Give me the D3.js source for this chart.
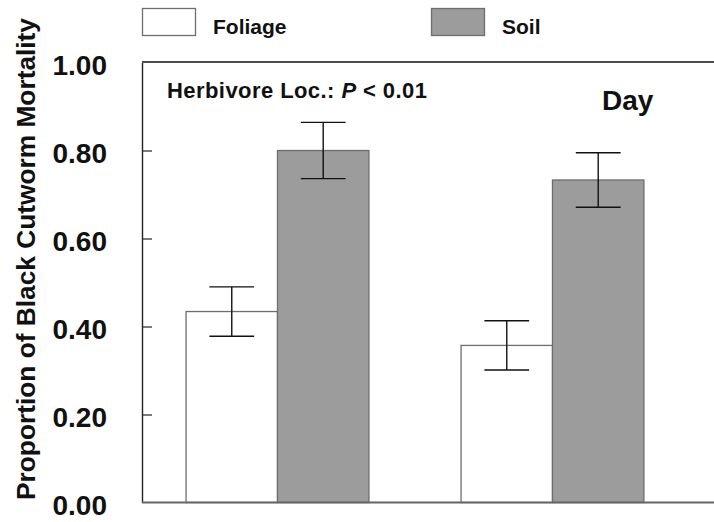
<!DOCTYPE html>
<html>
<head>
<meta charset="utf-8">
<script src="https://cdn.jsdelivr.net/npm/d3@7"></script>
<style>
  html, body { margin: 0; padding: 0; background: #fff; }
  svg { display: block; font-family: "Liberation Sans", Arial, sans-serif; }
</style>
</head>
<body>
<svg id="chart" width="714" height="522"></svg>
<script>
// Black cutworm mortality by herbivore location (day)
const groups = ["Plot A", "Plot B"];
const seriesNames = ["Foliage", "Soil"];
const foliageMean = [0.434, 0.357];
const foliageErr = [0.056, 0.056];
const soilMean = [0.800, 0.733];
const soilErr = [0.064, 0.062];
const yTicks = [0, 0.2, 0.4, 0.6, 0.8, 1.0];

const fills = { Foliage: "#ffffff", Soil: "#9c9c9c" };

const rows = groups.flatMap((g, i) => [
  { group: g, series: "Foliage", value: foliageMean[i], err: foliageErr[i] },
  { group: g, series: "Soil", value: soilMean[i], err: soilErr[i] }
]);

const svg = d3.select("#chart");
const plotLeft = 142, plotRight = 714, plotTop = 62.5, plotBottom = 502.5;

const y = d3.scaleLinear().domain([0, 1]).range([plotBottom, plotTop]);
const x0 = d3.scaleBand().domain(groups).range([plotLeft, plotRight])
  .paddingInner(0.335).paddingOuter(0.2075).align(0.386);
const x1 = d3.scaleBand().domain(seriesNames).range([0, x0.bandwidth()]);

// bars
const g = svg.append("g");
g.selectAll("rect.bar").data(rows).join("rect")
  .attr("class", "bar")
  .attr("x", d => x0(d.group) + x1(d.series))
  .attr("y", d => y(d.value))
  .attr("width", x1.bandwidth())
  .attr("height", d => y(0) - y(d.value))
  .attr("fill", d => fills[d.series])
  .attr("stroke", "#6e6e6e")
  .attr("stroke-width", 1.3);

// error bars
const capW = x1.bandwidth() * 0.49;
const eb = g.selectAll("g.err").data(rows).join("g").attr("class", "err")
  .attr("stroke", "#111").attr("stroke-width", 1.4);
eb.append("line")
  .attr("x1", d => x0(d.group) + x1(d.series) + x1.bandwidth() / 2)
  .attr("x2", d => x0(d.group) + x1(d.series) + x1.bandwidth() / 2)
  .attr("y1", d => y(d.value + d.err))
  .attr("y2", d => y(d.value - d.err));
eb.selectAll("line.cap").data(d => [
    { c: x0(d.group) + x1(d.series) + x1.bandwidth() / 2, v: d.value + d.err },
    { c: x0(d.group) + x1(d.series) + x1.bandwidth() / 2, v: d.value - d.err }
  ]).join("line").attr("class", "cap")
  .attr("x1", d => d.c - capW / 2).attr("x2", d => d.c + capW / 2)
  .attr("y1", d => y(d.v)).attr("y2", d => y(d.v));

// y axis with inward ticks
const yAxis = d3.axisLeft(y).tickValues(yTicks).tickFormat(d3.format(".2f"))
  .tickSizeInner(-10).tickSizeOuter(0).tickPadding(35);
const ya = svg.append("g").attr("transform", `translate(${plotLeft},0)`).call(yAxis);
ya.select(".domain").attr("stroke", "#222").attr("stroke-width", 1.4);
ya.selectAll(".tick line").attr("stroke", "#222").attr("stroke-width", 1.2)
  .filter(d => d === 0 || d === 1).remove();
ya.selectAll(".tick text")
  .attr("font-size", 28).attr("font-weight", "bold").attr("fill", "#111")
  .attr("font-family", "'Liberation Sans', Arial, sans-serif")
  .attr("dy", "0.42em");

// bottom axis line and top frame line
const xAxis = d3.axisBottom(x0).tickSize(0).tickFormat("");
const xa = svg.append("g").attr("transform", `translate(0,${plotBottom})`).call(xAxis);
xa.select(".domain").attr("stroke", "#666").attr("stroke-width", 2)
  .attr("d", `M${plotLeft},0H${plotRight}`);
svg.append("line")
  .attr("x1", plotLeft).attr("x2", plotRight).attr("y1", plotTop - 0.5).attr("y2", plotTop - 0.5)
  .attr("stroke", "#111").attr("stroke-width", 1.5);

// y axis title
svg.append("text")
  .attr("transform", `translate(35,${(18 + 500) / 2}) rotate(-90)`)
  .attr("text-anchor", "middle")
  .attr("font-size", 26).attr("font-weight", "bold").attr("fill", "#111")
  .attr("textLength", 482).attr("lengthAdjust", "spacingAndGlyphs")
  .text("Proportion of Black Cutworm Mortality");

// legend
const legendX = { Foliage: 142, Soil: 431 };
const lg = svg.selectAll("g.legend").data(seriesNames).join("g").attr("class", "legend")
  .attr("transform", d => `translate(${legendX[d]},8)`);
lg.append("rect").attr("x", 0.5).attr("y", 0.5).attr("width", 53).attr("height", 27)
  .attr("fill", d => fills[d]).attr("stroke", "#6e6e6e").attr("stroke-width", 1.3);
lg.append("text").attr("x", 71).attr("y", 25.5)
  .attr("font-size", 21).attr("font-weight", "bold").attr("fill", "#111")
  .text(d => d);

// annotations
const ann = svg.append("text").attr("x", 167).attr("y", 98)
  .attr("font-size", 22).attr("font-weight", "bold").attr("fill", "#111")
  .attr("textLength", 260).attr("lengthAdjust", "spacing");
ann.append("tspan").text("Herbivore Loc.: ");
ann.append("tspan").attr("font-style", "italic").text("P");
ann.append("tspan").text(" < 0.01");

svg.append("text").attr("x", 602).attr("y", 110)
  .attr("font-size", 28).attr("font-weight", "bold").attr("fill", "#111")
  .text("Day");
</script>
</body>
</html>
